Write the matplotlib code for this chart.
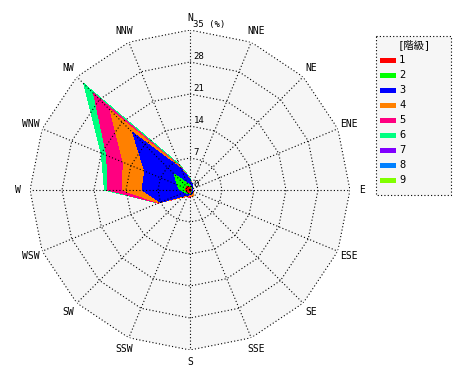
import numpy as np
import matplotlib
matplotlib.use("Agg")
import matplotlib.pyplot as plt
from matplotlib.patches import Rectangle

plt.rcParams['font.family'] = ['DejaVu Sans Mono', 'Noto Sans CJK JP']

# ---------------- data ----------------
directions = ["N", "NNE", "NE", "ENE", "E", "ESE", "SE", "SSE",
              "S", "SSW", "SW", "WSW", "W", "WNW", "NW", "NNW"]
class_labels = ["1", "2", "3", "4", "5", "6", "7", "8", "9"]
class_colors = ["#ff0000", "#00ff00", "#0000ff", "#ff8000", "#ff0080",
                "#00ff80", "#8000ff", "#0080ff", "#80ff00"]

# frequency (%) per class, per direction (N, NNE, ..., NNW)
class1 = [0.5, 0.4, 0.3, 0.2, 0.3, 0.2, 0.3, 0.3, 0.5, 0.5, 0.6, 0.8, 1.0, 0.9, 1.0, 0.7]
class2 = [0.5, 0.2, 0.2, 0.1, 0.1, 0.1, 0.1, 0.2, 0.2, 0.3, 0.4, 0.4, 1.2, 2.1, 3.9, 0.9]
class3 = [1.3, 0.6, 0.3, 0.2, 0.2, 0.2, 0.4, 0.4, 0.3, 0.5, 0.8, 5.8, 8.3, 7.7, 12.8, 3.4]
class4 = [0.1, 0.0, 0.0, 0.0, 0.0, 0.1, 0.4, 0.6, 0.2, 0.2, 0.4, 0.4, 4.3, 5.1, 7.0, 0.4]
class5 = [0.0, 0.0, 0.0, 0.0, 0.0, 0.0, 0.0, 0.0, 0.4, 0.1, 0.0, 0.1, 3.2, 3.9, 5.1, 0.1]
class6 = [0.2, 0.1, 0.0, 0.0, 0.0, 0.0, 0.0, 0.0, 0.0, 0.0, 0.0, 0.0, 0.7, 1.3, 3.0, 0.5]
class7 = [0.0] * 16
class8 = [0.0] * 16
class9 = [0.0] * 16

ring_values = [7, 14, 21, 28, 35]
ring_labels = ["0", "7", "14", "21", "28", "35 (%)"]
r_max = 35
legend_title = "[階級]"

# ---------------- figure ----------------
W, H = 470, 380
fig = plt.figure(figsize=(W / 100, H / 100), dpi=100)
fig.patch.set_facecolor("white")

cx, cy, rad = 190, 190, 160
ax = fig.add_axes([(cx - rad) / W, (H - cy - rad) / H, 2 * rad / W, 2 * rad / H],
                  projection="polar")
ax.set_theta_zero_location("N")
ax.set_theta_direction(-1)
ax.set_ylim(0, r_max)
ax.grid(False)
ax.set_xticks([])
ax.set_yticks([])
ax.spines["polar"].set_visible(False)
ax.patch.set_visible(False)

n = len(directions)
theta = np.deg2rad(np.arange(n) * 360.0 / n)
theta_c = np.append(theta, theta[0])

# background polygon
ax.fill(theta_c, [r_max] * (n + 1), color="#f6f6f6", zorder=0, lw=0)

classes = [class1, class2, class3, class4, class5, class6, class7, class8, class9]
cum = np.cumsum(np.array(classes, dtype=float), axis=0)
for k in range(len(classes) - 1, -1, -1):
    vals = np.append(cum[k], cum[k][0])
    ax.fill(theta_c, vals, color=class_colors[k], lw=0, antialiased=False, zorder=1 + (9 - k) * 0.01)

# grid
dot = dict(color="black", lw=0.8, linestyle=(0, (1, 2)), zorder=3)
for rv in ring_values:
    ax.plot(theta_c, [rv] * (n + 1), **dot)
for t in theta:
    ax.plot([t, t], [0, r_max], **dot)

# ring labels
for rv, lbl in zip([0] + ring_values, ring_labels):
    ax.annotate(lbl, (0, rv), xytext=(2.5, 0.5), textcoords="offset points",
                ha="left", va="bottom", fontsize=6.5, zorder=4)

# direction labels
for t, d in zip(theta, directions):
    ax.text(t, r_max * 172 / 160, d, ha="center", va="center", fontsize=7, clip_on=False)

# legend
lx0, lx1, ly0, ly1 = 375, 451, 35, 195
lax = fig.add_axes([lx0 / W, (H - ly1) / H, (lx1 - lx0) / W, (ly1 - ly0) / H])
lax.set_xlim(0, lx1 - lx0)
lax.set_ylim(ly1 - ly0, 0)
lax.axis("off")
lax.add_patch(Rectangle((0.5, 0.5), lx1 - lx0 - 1, ly1 - ly0 - 1, facecolor="#f6f6f6",
                        edgecolor="black", lw=0.8, linestyle=(0, (1, 2)), clip_on=False))
lax.text(39, 10, legend_title, ha="center", va="center", fontsize=7.5)
for i, (lbl, col) in enumerate(zip(class_labels, class_colors)):
    yc = 25.3 + 15 * i
    lax.add_patch(Rectangle((5, yc - 2.3), 16, 4.6, facecolor=col, edgecolor="none"))
    lax.text(24, yc, lbl, ha="left", va="center", fontsize=7.5)

fig.savefig("out.png", dpi=100)
